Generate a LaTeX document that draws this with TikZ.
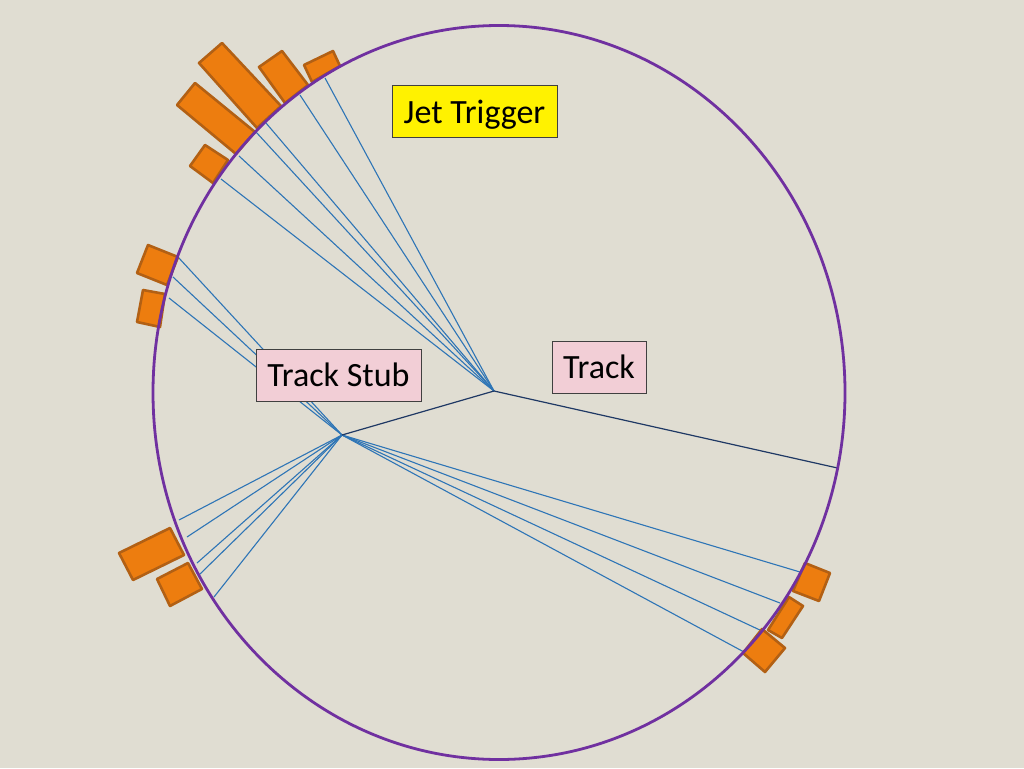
\documentclass[tikz,border=0pt]{standalone}
\usepackage{fontspec}
\setmainfont{Carlito}
\definecolor{bgc}{RGB}{224,221,210}
\definecolor{ringc}{RGB}{112,48,160}
\definecolor{orf}{RGB}{237,125,15}
\definecolor{ord}{RGB}{178,96,20}
\definecolor{blu}{RGB}{46,117,182}
\definecolor{navy}{RGB}{31,56,100}
\definecolor{pinkc}{RGB}{242,206,214}
\begin{document}
\begin{tikzpicture}[x=1pt,y=-1pt,
  hit/.style={fill=orf,draw=ord,line width=2.6pt,line join=round},
  ray/.style={draw=blu,line width=1.1pt},
  trk/.style={draw=navy,line width=1.2pt},
  lbl/.style={draw=black!75,line width=0.9pt,inner sep=0pt,font=\fontsize{34}{40}\selectfont}]
\useasboundingbox (0,0) rectangle (1024,768);
\fill[bgc] (0,0) rectangle (1024,768);
% vertices
\coordinate (V1) at (494,391);
\coordinate (V2) at (342,435);
% ray end points
\coordinate (a1) at (325,78);
\coordinate (a2) at (300,95);
\coordinate (a3) at (266,123);
\coordinate (a4) at (256,132);
\coordinate (a5) at (239,156);
\coordinate (a6) at (221,179);
\coordinate (b1) at (178,257);
\coordinate (b2) at (173,277);
\coordinate (b3) at (169,298);
\coordinate (c1) at (179,520);
\coordinate (c2) at (187,537);
\coordinate (c3) at (197,563);
\coordinate (c4) at (200,574);
\coordinate (c5) at (214,597);
\coordinate (d1) at (800,572);
\coordinate (d2) at (780,603);
\coordinate (d3) at (762,631);
\coordinate (d4) at (744,652);
\coordinate (T) at (837.5,468);
% rays
\foreach \p in {a1,a2,a3,a4,a5,a6} \draw[ray] (V1) -- (\p);
\foreach \p in {b1,b2,b3,c1,c2,c3,c4,c5,d1,d2,d3,d4} \draw[ray] (V2) -- (\p);
\draw[trk] (V2) -- (V1) -- (T);
% calorimeter hits
\draw[hit] (199,63) -- (222,43) -- (281,106) -- (257,128) -- cycle;
\draw[hit] (177,105) -- (195,83) -- (255,132) -- (236,154) -- cycle;
\draw[hit] (259,67) -- (282,51) -- (308,85) -- (285,103) -- cycle;
\draw[hit] (304,65) -- (333,51) -- (340,66) -- (312,82) -- cycle;
\draw[hit] (190,166) -- (205,145) -- (228,160) -- (213,183) -- cycle;
\draw[hit] (137,273) -- (148,245) -- (178,257) -- (167,285) -- cycle;
\draw[hit] (143,290) -- (165,294) -- (160,327) -- (137,322) -- cycle;
\draw[hit] (119,553) -- (170,528) -- (184,555) -- (133,580) -- cycle;
\draw[hit] (157,579) -- (188,563) -- (202,589) -- (170,606) -- cycle;
\draw[hit] (805,563) -- (830,573) -- (819,601) -- (793,591) -- cycle;
\draw[hit] (789,597) -- (803,606) -- (782,638) -- (768,630) -- cycle;
\draw[hit] (762,629) -- (785,648) -- (765,672) -- (743,653) -- cycle;
% detector ring
\draw[ringc,line width=2.8pt] (499,392.5) ellipse [x radius=346pt, y radius=367pt];
% labels
\node[lbl,fill=yellow,minimum width=165pt,minimum height=52pt] (jet) at (474.5,111) {\raisebox{-12pt}[0pt][0pt]{Jet Trigger}};
\node[lbl,fill=pinkc,minimum width=165pt,minimum height=52pt] (stub) at (338.5,375) {\raisebox{-11pt}[0pt][0pt]{Track Stub}};
\node[lbl,fill=pinkc,minimum width=94pt,minimum height=52pt] (track) at (599,367) {\raisebox{-11pt}[0pt][0pt]{Track}};
\end{tikzpicture}
\end{document}
